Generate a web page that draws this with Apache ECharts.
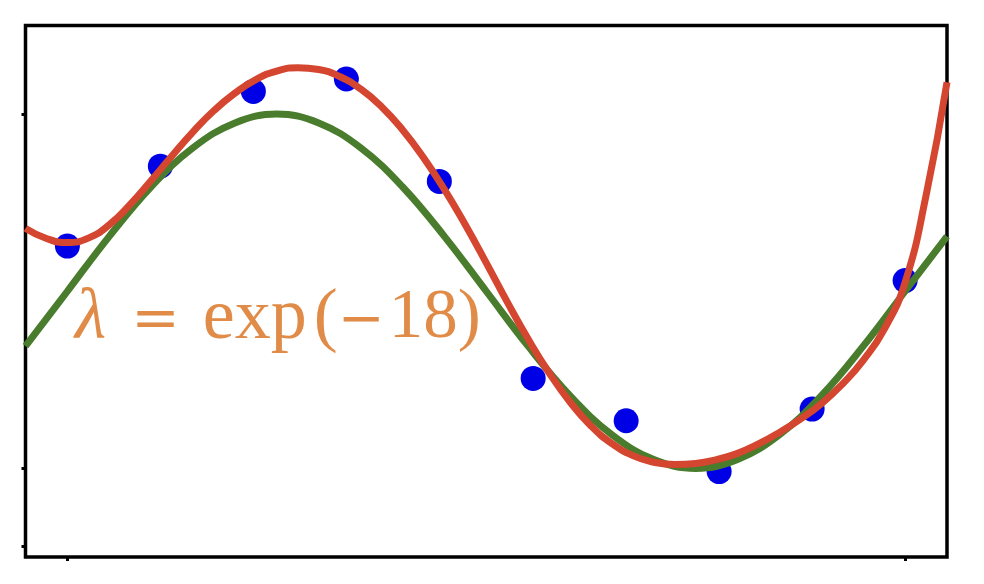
<!DOCTYPE html>
<html>
<head>
<meta charset="utf-8">
<script src="https://cdn.jsdelivr.net/npm/echarts@6/dist/echarts.min.js"></script>
<style>
html,body{margin:0;padding:0;background:#fff;}
#chart{width:984px;height:584px;}
</style>
</head>
<body>
<div id="chart"></div>
<script>
// Observed data points
const sampleX = [0, 0.111, 0.222, 0.333, 0.444, 0.556, 0.667, 0.778, 0.889, 1.0];
const sampleY = [0.255, 0.706, 1.128, 1.198, 0.62, -0.492, -0.731, -1.018, -0.665, 0.06];

// True curve (green)
const trueX = [-0.05, 0, 0.05, 0.1, 0.15, 0.2, 0.25, 0.3, 0.35, 0.4, 0.45, 0.5, 0.55, 0.6, 0.65, 0.7, 0.75, 0.8, 0.85, 0.9, 0.95, 1.0, 1.05];
const trueY = [-0.31, 0, 0.31, 0.59, 0.81, 0.95, 1.0, 0.95, 0.81, 0.59, 0.31, 0, -0.31, -0.59, -0.81, -0.95, -1.0, -0.95, -0.81, -0.59, -0.31, 0, 0.31];

// Fitted curve (red)
const fitX = [-0.05, -0.025, 0, 0.025, 0.05, 0.075, 0.1, 0.125, 0.15, 0.175, 0.2, 0.225, 0.25, 0.275, 0.3, 0.325, 0.35, 0.375, 0.4, 0.425, 0.45, 0.475, 0.5, 0.525, 0.55, 0.575, 0.6, 0.625, 0.65, 0.675, 0.7, 0.725, 0.75, 0.775, 0.8, 0.825, 0.85, 0.875, 0.9, 0.925, 0.95, 0.975, 1.0, 1.025, 1.05];
const fitY = [0.355, 0.298, 0.275, 0.3, 0.375, 0.49, 0.625, 0.765, 0.9, 1.02, 1.118, 1.195, 1.243, 1.262, 1.252, 1.212, 1.142, 1.042, 0.912, 0.755, 0.575, 0.375, 0.16, -0.06, -0.27, -0.46, -0.625, -0.76, -0.86, -0.928, -0.965, -0.978, -0.972, -0.95, -0.915, -0.862, -0.797, -0.722, -0.635, -0.525, -0.39, -0.215, 0.05, 0.54, 1.18];

// Tick positions
const xTicks = [0, 1];
const yTicks = [-1.44, -1, 1];

// Annotation pieces
const lambdaText = 'λ';
const eqText = '=';
const fnText = 'exp';
const openText = '(';
const minusText = '−';
const numText = '18)';

const zip = (xs, ys) => xs.map((x, i) => [x, ys[i]]);
const orange = '#e08c48';
const serif = 'Liberation Serif';
const fs = 72;

const chart = echarts.init(document.getElementById('chart'), null, {renderer: 'canvas'});
chart.setOption({
  animation: false,
  backgroundColor: '#ffffff',
  grid: {
    left: 25.5, right: 37, top: 25.5, bottom: 27,
    show: true, borderColor: '#000', borderWidth: 3.5, backgroundColor: 'transparent'
  },
  xAxis: {
    type: 'value', min: -0.05, max: 1.05,
    axisLine: {show: false, onZero: false},
    axisTick: {show: true, inside: false, length: 4, customValues: xTicks, lineStyle: {color: '#000', width: 3}},
    axisLabel: {show: false},
    splitLine: {show: false}
  },
  yAxis: {
    type: 'value', min: -1.5, max: 1.5,
    axisLine: {show: false, onZero: false},
    axisTick: {show: true, inside: false, length: 4, customValues: yTicks, lineStyle: {color: '#000', width: 3}},
    axisLabel: {show: false},
    splitLine: {show: false}
  },
  series: [
    {
      type: 'scatter', data: zip(sampleX, sampleY), symbol: 'circle', symbolSize: 25,
      itemStyle: {color: '#0000e6', opacity: 1}, z: 1
    },
    {
      type: 'line', data: zip(trueX, trueY), smooth: 0.4, showSymbol: false,
      lineStyle: {color: '#4a7c2e', width: 7}, z: 2
    },
    {
      type: 'line', data: zip(fitX, fitY), smooth: 0.5, showSymbol: false,
      lineStyle: {color: '#d4462f', width: 7}, z: 3
    }
  ],
  graphic: [{
    type: 'text', left: 75, top: 283, z: 10,
    style: {
      text: '{l|' + lambdaText + '}{e|' + eqText + '}{f|' + fnText + '}{a|' + openText + '}{m|' + minusText + '}{b|' + numText + '}',
      rich: {
        l: {fontFamily: serif, fontStyle: 'italic', fontSize: fs, fill: orange, padding: [0, 25, 0, 0]},
        e: {fontFamily: 'DejaVu Serif', fontSize: 58, fill: orange, padding: [6, 23, 0, 0]},
        f: {fontFamily: serif, fontSize: fs, fill: orange, padding: [0, 7, 0, 0]},
        a: {fontFamily: serif, fontSize: fs, fill: orange},
        m: {fontFamily: 'DejaVu Serif', fontSize: 56, fill: orange, padding: [6, 4, 0, 0]},
        b: {fontFamily: serif, fontSize: 69, fill: orange}
      }
    }
  }]
});
</script>
</body>
</html>
